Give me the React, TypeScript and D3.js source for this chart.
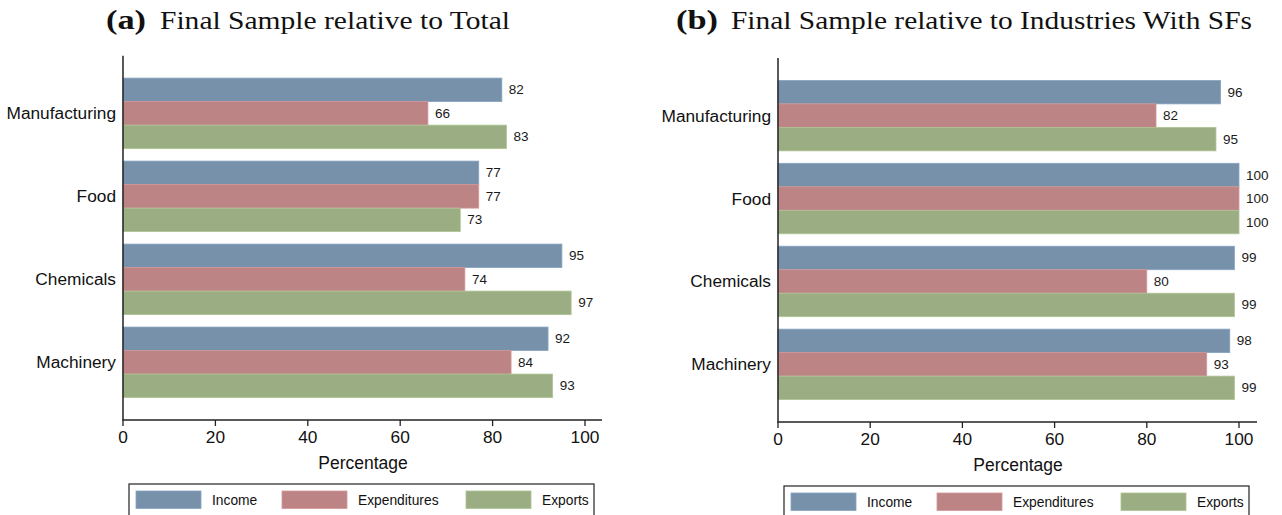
import React from "react";
import * as d3 from "d3";

// Industry groups, top to bottom
const categories = ["Manufacturing", "Food", "Chemicals", "Machinery"];
const seriesNames = ["Income", "Expenditures", "Exports"];
const seriesColors = ["#7791ab", "#bc8485", "#9bad82"];

// (a) Final sample relative to total
const totalIncome = [82, 77, 95, 92];
const totalExpenditures = [66, 77, 74, 84];
const totalExports = [83, 73, 97, 93];

// (b) Final sample relative to industries with SFs
const sfIncome = [96, 100, 99, 98];
const sfExpenditures = [82, 100, 80, 93];
const sfExports = [95, 100, 99, 99];

const xTicks = [0, 20, 40, 60, 80, 100];

const SANS = "'Liberation Sans', Arial, sans-serif";
const SERIF = "'Liberation Serif', 'Times New Roman', serif";

type PanelProps = {
  letter: string;
  title: string;
  titleX: number;
  titleLetterLen: number;
  titleRestX: number;
  titleRestLen: number;
  x0: number;
  x100: number;
  axisEnd: number;
  top: number;
  axisY: number;
  series: number[][];
};

function Panel(p: PanelProps) {
  const x = d3.scaleLinear().domain([0, 100]).range([p.x0, p.x100]);
  const y = d3
    .scaleBand<string>()
    .domain(categories)
    .range([p.top, p.axisY])
    .paddingInner(0.15)
    .paddingOuter(0.27);
  const inner = d3
    .scaleBand<string>()
    .domain(seriesNames)
    .range([0, y.bandwidth()])
    .padding(0);

  const legendX = p.x0 + 6;
  const legendY = p.axisY + 64;
  const keyOffsets = [7, 153, 337];

  return (
    <g>
      {/* title */}
      <text
        x={p.titleX}
        y={29}
        fontFamily={SERIF}
        fontSize={27}
        fill="#111"
        fontWeight="bold"
        textLength={p.titleLetterLen}
        lengthAdjust="spacingAndGlyphs"
      >
        {`(${p.letter})`}
      </text>
      <text
        x={p.titleRestX}
        y={29}
        fontFamily={SERIF}
        fontSize={25}
        fill="#111"
        textLength={p.titleRestLen}
        lengthAdjust="spacingAndGlyphs"
      >
        {p.title}
      </text>

      {/* bars */}
      {categories.map((c, i) => (
        <g key={c}>
          {seriesNames.map((s, j) => {
            const v = p.series[j][i];
            const by = (y(c) as number) + (inner(s) as number);
            const bh = inner.bandwidth();
            return (
              <g key={s}>
                <rect
                  x={x(0)}
                  y={by}
                  width={x(v) - x(0)}
                  height={bh}
                  fill={seriesColors[j]}
                  stroke={d3.color(seriesColors[j])!.brighter(0.35).formatHex()}
                  strokeWidth={0.8}
                />
                <text
                  x={x(v) + 7}
                  y={by + bh / 2}
                  dominantBaseline="central"
                  fontFamily={SANS}
                  fontSize={13.5}
                  fill="#1a1a1a"
                >
                  {v}
                </text>
              </g>
            );
          })}
          <text
            x={p.x0 - 7}
            y={(y(c) as number) + y.bandwidth() / 2}
            textAnchor="end"
            dominantBaseline="central"
            fontFamily={SANS}
            fontSize={17.3}
            fill="#111"
          >
            {c}
          </text>
        </g>
      ))}

      {/* axes */}
      <line x1={p.x0} x2={p.x0} y1={p.top} y2={p.axisY} stroke="#222" strokeWidth={1.5} />
      <line x1={p.x0 - 0.75} x2={p.axisEnd} y1={p.axisY} y2={p.axisY} stroke="#222" strokeWidth={1.5} />
      {xTicks.map((t) => (
        <g key={t}>
          <line x1={x(t)} x2={x(t)} y1={p.axisY} y2={p.axisY + 6} stroke="#222" strokeWidth={1.3} />
          <text
            x={x(t)}
            y={p.axisY + 23}
            textAnchor="middle"
            fontFamily={SANS}
            fontSize={17.3}
            fill="#111"
          >
            {t}
          </text>
        </g>
      ))}
      <text
        x={p.x0 + 240}
        y={p.axisY + 49}
        textAnchor="middle"
        fontFamily={SANS}
        fontSize={17.5}
        fill="#111"
      >
        Percentage
      </text>

      {/* legend */}
      <rect x={legendX} y={legendY} width={465} height={50} fill="#fff" stroke="#222" strokeWidth={1.2} />
      {seriesNames.map((s, j) => (
        <g key={s}>
          <rect
            x={legendX + keyOffsets[j]}
            y={legendY + 7}
            width={65}
            height={17.5}
            fill={seriesColors[j]}
            stroke={d3.color(seriesColors[j])!.brighter(0.35).formatHex()}
            strokeWidth={0.8}
          />
          <text
            x={legendX + keyOffsets[j] + 76}
            y={legendY + 16}
            dominantBaseline="central"
            fontFamily={SANS}
            fontSize={13.8}
            fill="#111"
          >
            {s}
          </text>
        </g>
      ))}
    </g>
  );
}

export default function App() {
  return (
    <svg
      width={1282}
      height={515}
      style={{ position: "absolute", left: 0, top: 0, background: "#fff" }}
    >
      <rect x={0} y={0} width={1282} height={515} fill="#fff" />
      <Panel
        letter="a"
        title="Final Sample relative to Total"
        titleX={106}
        titleLetterLen={40}
        titleRestX={160}
        titleRestLen={350}
        x0={123}
        x100={585}
        axisEnd={602}
        top={55.7}
        axisY={420}
        series={[totalIncome, totalExpenditures, totalExports]}
      />
      <Panel
        letter="b"
        title="Final Sample relative to Industries With SFs"
        titleX={676}
        titleLetterLen={42}
        titleRestX={731}
        titleRestLen={521}
        x0={778}
        x100={1239}
        axisEnd={1257}
        top={58}
        axisY={422}
        series={[sfIncome, sfExpenditures, sfExports]}
      />
    </svg>
  );
}
